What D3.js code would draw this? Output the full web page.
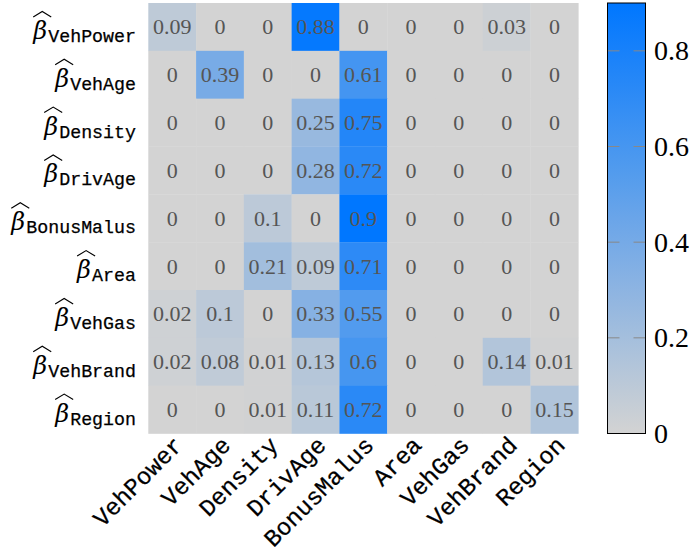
<!DOCTYPE html>
<html><head><meta charset="utf-8">
<script src="https://cdn.jsdelivr.net/npm/d3@7/dist/d3.min.js"></script>
<style>body{margin:0;background:#fff}</style>
</head><body>
<svg id="chart" width="693" height="557"></svg>
<script>
const variables = ["VehPower","VehAge","Density","DrivAge","BonusMalus","Area","VehGas","VehBrand","Region"];
const rowVehPower   = [0.09, 0, 0, 0.88, 0, 0, 0, 0.03, 0];
const rowVehAge     = [0, 0.39, 0, 0, 0.61, 0, 0, 0, 0];
const rowDensity    = [0, 0, 0, 0.25, 0.75, 0, 0, 0, 0];
const rowDrivAge    = [0, 0, 0, 0.28, 0.72, 0, 0, 0, 0];
const rowBonusMalus = [0, 0, 0.1, 0, 0.9, 0, 0, 0, 0];
const rowArea       = [0, 0, 0.21, 0.09, 0.71, 0, 0, 0, 0];
const rowVehGas     = [0.02, 0.1, 0, 0.33, 0.55, 0, 0, 0, 0];
const rowVehBrand   = [0.02, 0.08, 0.01, 0.13, 0.6, 0, 0, 0.14, 0.01];
const rowRegion     = [0, 0, 0.01, 0.11, 0.72, 0, 0, 0, 0.15];
const matrix = [rowVehPower,rowVehAge,rowDensity,rowDrivAge,rowBonusMalus,rowArea,rowVehGas,rowVehBrand,rowRegion];
const colorTicks = [0, 0.2, 0.4, 0.6, 0.8];
const colorDomain = [0, 0.9];

const svg = d3.select("#chart");
const gridL = 148.3, gridR = 578.3, gridT = 3, gridB = 433.5;
const x = d3.scaleBand().domain(variables).range([gridL, gridR]);
const y = d3.scaleBand().domain(variables).range([gridT, gridB]);
const color = d3.scaleLinear().domain(colorDomain).range(["#d3d3d3", "#0077ff"]).interpolate(d3.interpolateRgb).clamp(true);

const cells = [];
matrix.forEach((row, i) => row.forEach((v, j) => cells.push({r: variables[i], c: variables[j], v})));

svg.append("g").selectAll("rect").data(cells).join("rect")
  .attr("x", d => x(d.c)).attr("y", d => y(d.r))
  .attr("width", x.bandwidth() + 0.3).attr("height", y.bandwidth() + 0.3)
  .attr("fill", d => color(d.v));

svg.append("g").selectAll("text").data(cells).join("text")
  .attr("x", d => x(d.c) + x.bandwidth()/2)
  .attr("y", d => y(d.r) + y.bandwidth()/2)
  .attr("text-anchor", "middle").attr("dominant-baseline", "central")
  .attr("font-family", "Liberation Serif, serif").attr("font-size", 22)
  .attr("fill", "#555")
  .text(d => String(d.v));

// Row labels: beta-hat with monospace subscript
const labelRight = 136;
const rowG = svg.append("g");
variables.forEach(v => {
  const cy = y(v) + y.bandwidth()/2;
  const sub = rowG.append("text")
    .attr("x", labelRight).attr("y", cy + 15)
    .attr("text-anchor", "end")
    .attr("font-family", "Liberation Mono, monospace").attr("font-size", 18.3)
    .attr("fill", "#000").attr("stroke", "#000").attr("stroke-width", 0.25).text(v);
  const w = sub.node().getComputedTextLength();
  const bx = labelRight - w - 15;
  rowG.append("text")
    .attr("x", bx).attr("y", cy + 12)
    .attr("font-family", "DejaVu Serif, serif").attr("font-style", "italic")
    .attr("font-size", 24).attr("fill", "#000").text("β");
  rowG.append("path")
    .attr("d", `M${bx} ${cy-10} L${bx+9} ${cy-15.5} L${bx+18} ${cy-10}`)
    .attr("fill", "none").attr("stroke", "#000").attr("stroke-width", 1.1);
});

// Column labels rotated
svg.append("g").selectAll("text").data(variables).join("text")
  .attr("transform", d => `translate(${x(d) + x.bandwidth()/2 + 6},${gridB + 7}) rotate(-45)`)
  .attr("text-anchor", "end").attr("dy", "0.35em")
  .attr("font-family", "Liberation Mono, monospace").attr("font-size", 24)
  .attr("fill", "#000").attr("stroke", "#000").attr("stroke-width", 0.25).text(d => d);

// Colorbar
const cbL = 607.5, cbR = 645.5;
const cy = d3.scaleLinear().domain(colorDomain).range([gridB, gridT]);
const defs = svg.append("defs");
const grad = defs.append("linearGradient").attr("id", "cb").attr("x1", 0).attr("y1", 1).attr("x2", 0).attr("y2", 0);
d3.range(0, 1.0001, 0.1).forEach(t => {
  grad.append("stop").attr("offset", t).attr("stop-color", color(colorDomain[0] + t*(colorDomain[1]-colorDomain[0])));
});
svg.append("rect").attr("x", cbL).attr("y", cy(colorDomain[1])).attr("width", cbR - cbL)
  .attr("height", cy(colorDomain[0]) - cy(colorDomain[1])).attr("fill", "url(#cb)");
const tg = svg.append("g");
tg.selectAll("line.l").data(colorTicks).join("line").attr("class","l")
  .attr("x1", cbL).attr("x2", cbL + 12).attr("y1", d => cy(d)).attr("y2", d => cy(d))
  .attr("stroke", "#888").attr("stroke-width", 1);
tg.selectAll("line.r").data(colorTicks).join("line").attr("class","r")
  .attr("x1", cbR - 12).attr("x2", cbR).attr("y1", d => cy(d)).attr("y2", d => cy(d))
  .attr("stroke", "#888").attr("stroke-width", 1);
svg.append("rect").attr("x", cbL).attr("y", cy(colorDomain[1])).attr("width", cbR - cbL)
  .attr("height", cy(colorDomain[0]) - cy(colorDomain[1])).attr("fill", "none")
  .attr("stroke", "#000").attr("stroke-width", 1);
tg.selectAll("text").data(colorTicks).join("text")
  .attr("x", 654).attr("y", d => cy(d)).attr("dominant-baseline", "central")
  .attr("font-family", "Liberation Serif, serif").attr("font-size", 28)
  .attr("fill", "#000").text(d => String(d));
</script>
</body></html>
